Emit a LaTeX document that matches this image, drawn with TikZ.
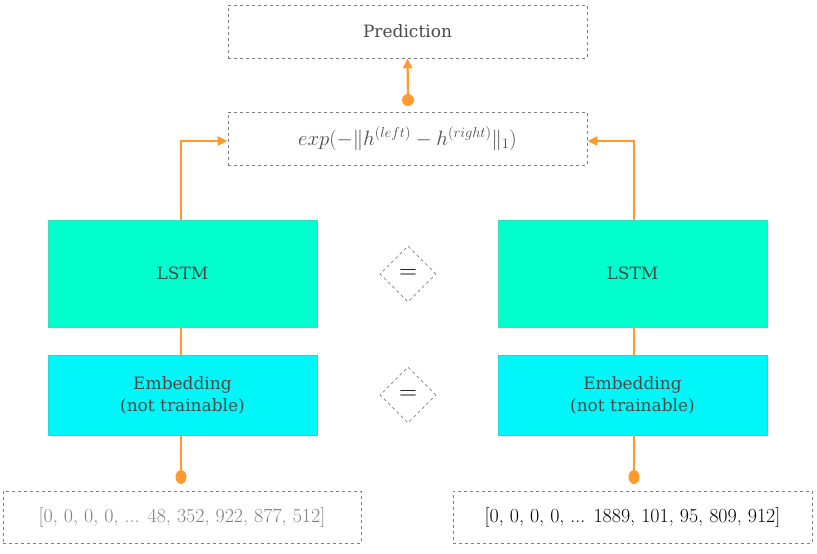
\documentclass[tikz,border=0pt]{standalone}
\usepackage{fontspec}
\newfontfamily\slab{DejaVu Serif}
\usetikzlibrary{arrows.meta,shapes.geometric}
\definecolor{lstmc}{HTML}{00FFCC}
\definecolor{lstmb}{HTML}{33E0BE}
\definecolor{embc}{HTML}{00F7FA}
\definecolor{embb}{HTML}{22D8DD}
\definecolor{orng}{HTML}{FF9A2E}
\definecolor{txtg}{HTML}{4A4A4A}
\definecolor{dashg}{HTML}{808080}
\begin{document}
\begin{tikzpicture}[x=1pt,y=-1pt,
  dbox/.style={draw=dashg,dashed,line width=0.8pt,minimum width=359pt,minimum height=53pt,inner sep=0pt,text=txtg},
  lstmbox/.style={fill=lstmc,draw=lstmb,line width=0.8pt,minimum width=269pt,minimum height=107pt,inner sep=0pt,text=txtg,font=\slab\fontsize{17}{20}\selectfont},
  embbox/.style={fill=embc,draw=embb,line width=0.8pt,minimum width=269pt,minimum height=80pt,inner sep=0pt,text=txtg,align=center,font=\slab\fontsize{17}{22}\selectfont},
  eqd/.style={diamond,draw=dashg,dashed,line width=0.8pt,minimum width=56pt,minimum height=56pt,inner sep=0pt,font=\fontsize{28}{28}\selectfont},
  conn/.style={draw=orng,line width=2.2pt},
  arr/.style={conn,-{Triangle[length=10pt,width=9pt]}}
]
\useasboundingbox (0,0) rectangle (817,554);
\node[dbox,font=\slab\fontsize{17}{20}\selectfont] (pred) at (407.5,31.5) {\raisebox{-3pt}{Prediction}};
\node[dbox,font=\fontsize{20}{24}\selectfont] (expf) at (407.5,138.5) {\raisebox{-3pt}{$exp(-\|h^{(left)} - h^{(right)}\|_1)$}};
\node[lstmbox] (lstmL) at (182.5,273.5) {LSTM};
\node[lstmbox] (lstmR) at (632.5,273.5) {LSTM};
\node[embbox] (embL) at (182.5,395) {Embedding\\(not trainable)};
\node[embbox] (embR) at (632.5,395) {Embedding\\(not trainable)};
\node[eqd] (eq1) at (408,274) {$=$};
\node[eqd] (eq2) at (408,395) {$=$};
\node[dbox,minimum width=358pt,minimum height=52pt,font=\fontsize{20}{24}\selectfont,text=gray] (inL) at (182,517) {[0, 0, 0, 0, ... 48, 352, 922, 877, 512]};
\node[dbox,minimum width=359pt,minimum height=52pt,font=\fontsize{20}{24}\selectfont,text=black] (inR) at (632.5,517) {[0, 0, 0, 0, ... 1889, 101, 95, 809, 912]};
\coordinate (dotP) at (408,100);
\coordinate (dotL) at (181,477);
\coordinate (dotR) at (634,477);
\fill[orng] (dotP) circle (6pt);
\draw[arr] (dotP) -- (pred.south);
\draw[arr] (lstmL.north -| 181,0) |- ([yshift=-2.5pt]expf.west);
\draw[arr] (lstmR.north -| 634,0) |- ([yshift=-2.5pt]expf.east);
\draw[conn] (lstmL.south -| 181,0) -- (embL.north -| 181,0);
\draw[conn] (lstmR.south -| 634,0) -- (embR.north -| 634,0);
\draw[conn] (embL.south -| 181,0) -- (dotL);
\draw[conn] (embR.south -| 634,0) -- (dotR);
\fill[orng] (dotL) ellipse (5.5pt and 7pt);
\fill[orng] (dotR) ellipse (5.5pt and 7pt);
\end{tikzpicture}
\end{document}
